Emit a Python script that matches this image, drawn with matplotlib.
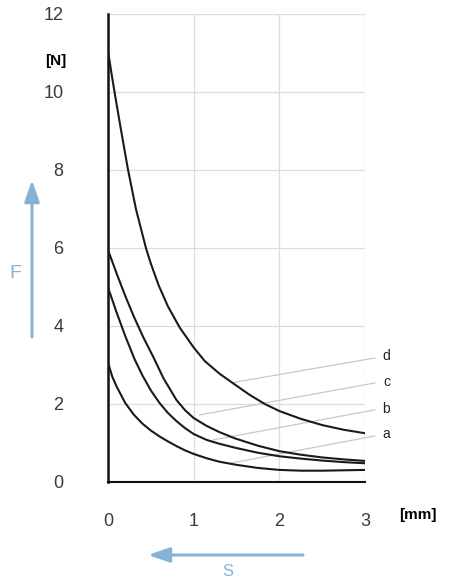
import matplotlib
matplotlib.use("Agg")
import matplotlib.pyplot as plt
from matplotlib.patches import FancyArrowPatch

plt.rcParams['font.family'] = ['Liberation Sans', 'DejaVu Sans']

# spring force F [N] over travel s [mm]
s_a = [0, 0.05, 0.1, 0.2, 0.3, 0.4, 0.5, 0.6, 0.7, 0.8, 0.9, 1.0, 1.15, 1.3, 1.5, 1.75, 2.0, 2.25, 2.5, 2.75, 3.0]
force_a = [3.06, 2.7, 2.45, 2.03, 1.73, 1.5, 1.32, 1.17, 1.04, 0.92, 0.81, 0.72, 0.61, 0.52, 0.44, 0.36, 0.31, 0.29, 0.29, 0.30, 0.31]

s_b = [0, 0.1, 0.2, 0.31, 0.4, 0.5, 0.6, 0.7, 0.8, 0.9, 1.0, 1.15, 1.3, 1.5, 1.75, 2.0, 2.25, 2.5, 2.75, 3.0]
force_b = [4.99, 4.35, 3.75, 3.15, 2.74, 2.35, 2.03, 1.77, 1.56, 1.38, 1.23, 1.08, 0.98, 0.87, 0.75, 0.66, 0.6, 0.55, 0.51, 0.48]

s_c = [0, 0.1, 0.2, 0.3, 0.41, 0.53, 0.65, 0.8, 0.9, 1.0, 1.15, 1.3, 1.48, 1.75, 2.0, 2.25, 2.5, 2.75, 3.0]
force_c = [5.95, 5.35, 4.78, 4.25, 3.72, 3.2, 2.65, 2.1, 1.84, 1.64, 1.44, 1.28, 1.12, 0.93, 0.79, 0.7, 0.63, 0.58, 0.54]

s_d = [0, 0.05, 0.08, 0.15, 0.23, 0.326, 0.443, 0.5, 0.59, 0.7, 0.84, 1.0, 1.13, 1.3, 1.48, 1.65, 1.83, 2.0, 2.25, 2.5, 2.75, 3.0]
force_d = [11.05, 10.35, 9.95, 9.05, 8.05, 7.0, 6.0, 5.6, 5.05, 4.5, 3.95, 3.45, 3.1, 2.78, 2.5, 2.24, 2.0, 1.82, 1.62, 1.46, 1.34, 1.25]

curve_names = ["a", "b", "c", "d"]
# leader line: point on the curve -> point near the letter
leader_start = [(1.45, 0.49), (1.23, 1.08), (1.07, 1.72), (1.46, 2.55)]
leader_end = [(3.115, 1.18), (3.115, 1.85), (3.115, 2.54), (3.115, 3.18)]
label_y = [1.22, 1.86, 2.57, 3.23]

x_ticks = [0, 1, 2, 3]
y_ticks = [0, 2, 4, 6, 8, 10, 12]

blue = "#86b3d3"
W, H = 449, 580

fig = plt.figure(figsize=(W / 100, H / 100), dpi=100)
ax = fig.add_axes([108 / W, 1 - 482 / H, (365 - 108) / W, (482 - 14) / H])

for xs, ys in [(s_a, force_a), (s_b, force_b), (s_c, force_c), (s_d, force_d)]:
    ax.plot(xs, ys, color="#1a1a1a", lw=1.5, solid_joinstyle="round", zorder=3)

for name, p0, p1, ly in zip(curve_names, leader_start, leader_end, label_y):
    ax.plot([p0[0], p1[0]], [p0[1], p1[1]], color="#c8c8c8", lw=0.9, clip_on=False, zorder=2)
    ax.text(3.25, ly, name, fontsize=10, color="#222222", ha="center", va="center")

ax.set_xlim(0, 3)
ax.set_ylim(0, 12)
ax.set_xticks(x_ticks)
ax.set_yticks(y_ticks)
ax.grid(True, color="#dcdcdc", lw=0.9, zorder=0)
ax.set_axisbelow(True)
for side in ["top", "right"]:
    ax.spines[side].set_visible(False)
ax.spines["left"].set_linewidth(1.8)
ax.spines["bottom"].set_linewidth(1.5)
ax.spines["left"].set_color("#111111")
ax.spines["bottom"].set_color("#111111")
ax.tick_params(length=0, labelsize=13, labelcolor="#3a3a3a")
ax.tick_params(axis="y", pad=32)
ax.tick_params(axis="x", pad=22)

ax.text(-0.61, 10.8, "[N]", fontsize=11, fontweight="bold", ha="center", va="center")
ax.text(3.62, -0.85, "[mm]", fontsize=11, fontweight="bold", ha="center", va="center", clip_on=False)

# direction arrows for F and s
arr_f = FancyArrowPatch((32, H - 337), (32, H - 180), transform=None,
                        arrowstyle="-|>,head_length=1.3,head_width=0.45", mutation_scale=10,
                        color=blue, lw=2.2, shrinkA=0, shrinkB=0)
fig.add_artist(arr_f)
arr_s = FancyArrowPatch((303, H - 555), (148, H - 555), transform=None,
                        arrowstyle="-|>,head_length=1.3,head_width=0.45", mutation_scale=10,
                        color=blue, lw=2.2, shrinkA=0, shrinkB=0)
fig.add_artist(arr_s)
fig.text(15 / W, 1 - 273 / H, "F", color=blue, fontsize=14, ha="center", va="center")
fig.text(228 / W, 1 - 572 / H, "S", color=blue, fontsize=12, ha="center", va="center")

fig.savefig("out.png", dpi=100)
